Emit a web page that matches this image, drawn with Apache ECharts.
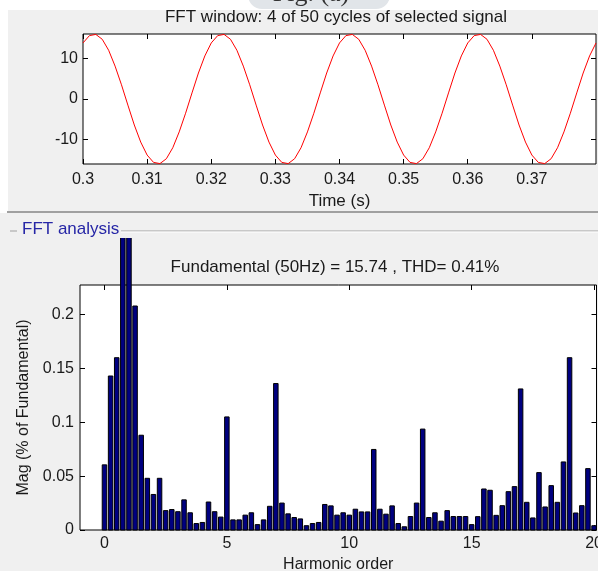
<!DOCTYPE html>
<html>
<head>
<meta charset="utf-8">
<script src="https://cdn.jsdelivr.net/npm/echarts@6/dist/echarts.min.js"></script>
<style>
  html, body { margin: 0; padding: 0; background: #fff; }
  #page { position: relative; width: 598px; height: 571px; overflow: hidden; background: #fff; }
  #topPanel { position: absolute; left: 8px; top: 10px; width: 590px; height: 201px; background: #f0f0f0; }
  #sep { position: absolute; left: 7px; top: 211px; width: 591px; height: 2px; background: #a0a0a0; }
  #lowPanel { position: absolute; left: 0; top: 213px; width: 598px; height: 358px; background: #f0f0f0; }
  #sigChart { position: absolute; left: 0; top: 0; width: 598px; height: 238px; }
  #fftChart { position: absolute; left: 0; top: 238px; width: 598px; height: 333px; }
</style>
</head>
<body>
<div id="page">
  <div id="topPanel"></div>
  <div id="sep"></div>
  <div id="lowPanel"></div>
  <div id="sigChart"></div>
  <div id="fftChart"></div>
</div>
<script>
// signal window (s) and samples
const sigTime = [
  0.300, 0.301, 0.302, 0.303, 0.304, 0.305, 0.306, 0.307, 0.308, 0.309,
  0.310, 0.311, 0.312, 0.313, 0.314, 0.315, 0.316, 0.317, 0.318, 0.319,
  0.320, 0.321, 0.322, 0.323, 0.324, 0.325, 0.326, 0.327, 0.328, 0.329,
  0.330, 0.331, 0.332, 0.333, 0.334, 0.335, 0.336, 0.337, 0.338, 0.339,
  0.340, 0.341, 0.342, 0.343, 0.344, 0.345, 0.346, 0.347, 0.348, 0.349,
  0.350, 0.351, 0.352, 0.353, 0.354, 0.355, 0.356, 0.357, 0.358, 0.359,
  0.360, 0.361, 0.362, 0.363, 0.364, 0.365, 0.366, 0.367, 0.368, 0.369,
  0.370, 0.371, 0.372, 0.373, 0.374, 0.375, 0.376, 0.377, 0.378, 0.379,
  0.380
]
const sigValue = [
  13.8, 15.6, 15.9, 14.7, 12.0, 8.1, 3.5, -1.5, -6.4, -10.6,
  -13.8, -15.6, -15.9, -14.7, -12.0, -8.1, -3.5, 1.5, 6.4, 10.6,
  13.8, 15.6, 15.9, 14.7, 12.0, 8.1, 3.5, -1.5, -6.4, -10.6,
  -13.8, -15.6, -15.9, -14.7, -12.0, -8.1, -3.5, 1.5, 6.4, 10.6,
  13.8, 15.6, 15.9, 14.7, 12.0, 8.1, 3.5, -1.5, -6.4, -10.6,
  -13.8, -15.6, -15.9, -14.7, -12.0, -8.1, -3.5, 1.5, 6.4, 10.6,
  13.8, 15.6, 15.9, 14.7, 12.0, 8.1, 3.5, -1.5, -6.4, -10.6,
  -13.8, -15.6, -15.9, -14.7, -12.0, -8.1, -3.5, 1.5, 6.4, 10.6,
  13.8
]
const timeTicks = [0.3, 0.31, 0.32, 0.33, 0.34, 0.35, 0.36, 0.37]
const sigTicks = [-10, 0, 10]

// harmonic spectrum, 0.25 order resolution
const harmOrder = [
  0, 0.25, 0.5, 0.75, 1, 1.25, 1.5, 1.75, 2, 2.25, 2.5, 2.75,
  3, 3.25, 3.5, 3.75, 4, 4.25, 4.5, 4.75, 5, 5.25, 5.5, 5.75,
  6, 6.25, 6.5, 6.75, 7, 7.25, 7.5, 7.75, 8, 8.25, 8.5, 8.75,
  9, 9.25, 9.5, 9.75, 10, 10.25, 10.5, 10.75, 11, 11.25, 11.5, 11.75,
  12, 12.25, 12.5, 12.75, 13, 13.25, 13.5, 13.75, 14, 14.25, 14.5, 14.75,
  15, 15.25, 15.5, 15.75, 16, 16.25, 16.5, 16.75, 17, 17.25, 17.5, 17.75,
  18, 18.25, 18.5, 18.75, 19, 19.25, 19.5, 19.75, 20
]
const harmMag = [
  0.0605, 0.143, 0.160, 0.45, 100, 0.208, 0.088, 0.048, 0.033, 0.048, 0.018, 0.019,
  0.017, 0.028, 0.016, 0.006, 0.007, 0.026, 0.017, 0.012, 0.105, 0.0094, 0.0094, 0.0138,
  0.016, 0.005, 0.0094, 0.022, 0.136, 0.025, 0.015, 0.0116, 0.0103, 0.004, 0.006, 0.007,
  0.0237, 0.0224, 0.0138, 0.016, 0.0138, 0.0193, 0.0168, 0.0168, 0.0748, 0.0193, 0.0147, 0.0224,
  0.006, 0.003, 0.0125, 0.025, 0.0937, 0.0116, 0.016, 0.0082, 0.018, 0.0125, 0.0125, 0.0125,
  0.005, 0.0124, 0.0381, 0.0369, 0.0136, 0.0226, 0.0356, 0.0403, 0.131, 0.0257, 0.0112, 0.0533,
  0.0214, 0.0412, 0.0257, 0.0632, 0.160, 0.0158, 0.0226, 0.057, 0.004
]
const orderTicks = [0, 5, 10, 15, 20]
const magTicks = [0, 0.05, 0.1, 0.15, 0.2]

const FONT = '"Liberation Sans", Arial, sans-serif'
const ink = '#1a1a1a'

function frameAxes(tickVals, pos, labels, fmt, margin) {
  return {
    type: 'value',
    position: pos,
    axisLine: { show: false, onZero: false },
    splitLine: { show: false },
    axisTick: { inside: true, length: 5, customValues: tickVals, lineStyle: { color: '#000' } },
    axisLabel: {
      show: labels, customValues: tickVals, formatter: fmt, margin: margin,
      fontSize: 16, color: ink, fontFamily: FONT
    }
  }
}
const fmt2 = v => String(+(+v).toFixed(2))

const sigChart = echarts.init(document.getElementById('sigChart'))
sigChart.setOption({
  backgroundColor: 'transparent',
  animation: false,
  textStyle: { fontFamily: FONT },
  graphic: [
    { type: 'rect', shape: { x: 248, y: -20, width: 142, height: 29, r: 14 }, style: { fill: '#e1e5e9' }, z: -1 },
    { type: 'text', x: 311, y: 7, style: { text: 'Fig. (a)', font: '26px "Liberation Serif", serif', fill: '#333', align: 'center', verticalAlign: 'bottom' } },
    { type: 'text', x: 336, y: 17, style: { text: 'FFT window: 4 of 50 cycles of selected signal', font: '17px ' + FONT, fill: ink, align: 'center', verticalAlign: 'middle' } },
    { type: 'line', shape: { x1: 10, y1: 231, x2: 17, y2: 231 }, style: { stroke: '#a0a0a0', lineWidth: 1 } },
    { type: 'line', shape: { x1: 121, y1: 231, x2: 598, y2: 231 }, style: { stroke: '#a0a0a0', lineWidth: 1 } },
    { type: 'line', shape: { x1: 121, y1: 232, x2: 598, y2: 232 }, style: { stroke: '#ffffff', lineWidth: 1 } },
    { type: 'text', x: 22, y: 229, style: { text: 'FFT analysis', font: '17px ' + FONT, fill: '#2626a6', align: 'left', verticalAlign: 'middle' } }
  ],
  grid: {
    left: 83, right: 2, top: 34, bottom: 74,
    outerBoundsMode: 'none',
    show: true, backgroundColor: '#fff', borderColor: '#000', borderWidth: 1
  },
  xAxis: [
    Object.assign(frameAxes(timeTicks, 'bottom', true, fmt2, 8), {
      min: 0.3, max: 0.38,
      name: 'Time (s)', nameLocation: 'middle', nameGap: 26,
      nameTextStyle: { fontSize: 17, color: ink, fontFamily: FONT }
    }),
    Object.assign(frameAxes(timeTicks, 'top', false, fmt2, 8), { min: 0.3, max: 0.38 })
  ],
  yAxis: [
    Object.assign(frameAxes(sigTicks, 'left', true, fmt2, 5), { min: -16, max: 16 }),
    Object.assign(frameAxes(sigTicks, 'right', false, fmt2, 5), { min: -16, max: 16 })
  ],
  series: [{
    type: 'line',
    xAxisIndex: 0,
    yAxisIndex: 0,
    showSymbol: false,
    data: sigTime.map((t, i) => [t, sigValue[i]]),
    lineStyle: { color: '#ff0000', width: 1 }
  }]
})

// bars drawn through the axis scales (a plain bar series would widen the value axis)
function renderBar(params, api) {
  const base = api.coord([api.value(0), 0])
  const top = api.coord([api.value(0), api.value(1)])
  const w = 4.5
  return {
    type: 'rect',
    shape: { x: base[0] - w / 2, y: top[1], width: w, height: base[1] - top[1] },
    style: { fill: '#000080', stroke: '#000', lineWidth: 1 }
  }
}

const fftChart = echarts.init(document.getElementById('fftChart'))
fftChart.setOption({
  backgroundColor: '#f0f0f0',
  animation: false,
  textStyle: { fontFamily: FONT },
  graphic: [
    { type: 'text', x: 335, y: 29, style: { text: 'Fundamental (50Hz) = 15.74 , THD= 0.41%', font: '17px ' + FONT, fill: ink, align: 'center', verticalAlign: 'middle' } }
  ],
  grid: {
    left: 80, right: 1.5, top: 47, bottom: 41,
    outerBoundsMode: 'none',
    show: true, backgroundColor: '#fff', borderColor: '#000', borderWidth: 1
  },
  xAxis: [
    Object.assign(frameAxes(orderTicks, 'bottom', true, fmt2, 6), {
      min: -1, max: 20.1,
      name: 'Harmonic order', nameLocation: 'middle', nameGap: 24,
      nameTextStyle: { fontSize: 16, color: ink, fontFamily: FONT }
    }),
    Object.assign(frameAxes(orderTicks, 'top', false, fmt2, 6), { min: -1, max: 20.1 })
  ],
  yAxis: [
    Object.assign(frameAxes(magTicks, 'left', true, fmt2, 6), {
      min: 0, max: 0.2275,
      name: 'Mag (% of Fundamental)', nameLocation: 'middle', nameGap: 48,
      nameTextStyle: { fontSize: 16, color: ink, fontFamily: FONT }
    }),
    Object.assign(frameAxes(magTicks, 'right', false, fmt2, 6), { min: 0, max: 0.2275 })
  ],
  series: [{
    type: 'custom',
    xAxisIndex: 0,
    yAxisIndex: 0,
    clip: false,
    renderItem: renderBar,
    encode: { x: 0, y: 1 },
    data: harmOrder.map((h, i) => [h, harmMag[i]])
  }]
})
</script>
</body>
</html>
